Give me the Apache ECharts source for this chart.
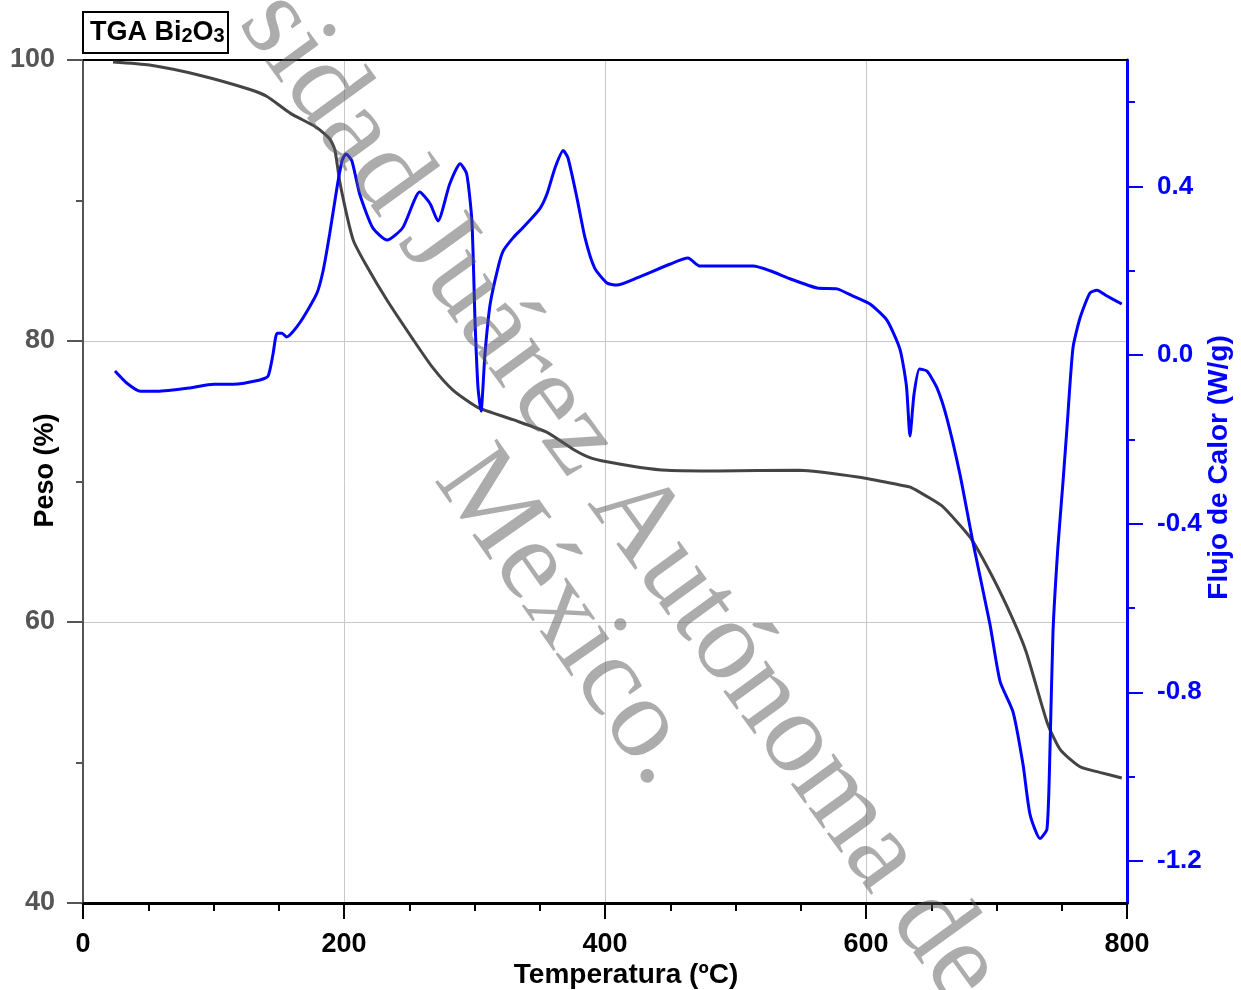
<!DOCTYPE html>
<html>
<head>
<meta charset="utf-8">
<script src="https://cdn.jsdelivr.net/npm/echarts@6/dist/echarts.min.js"></script>
<style>
  html, body { margin: 0; padding: 0; background: #fff; }
</style>
</head>
<body>
<div id="chart" style="width:1241px;height:990px"></div>
<script>
// TGA curve: temperature (ºC) / weight (%)
var tgaTemp = [23, 51, 90, 128, 141, 159, 179, 189, 193, 197, 207, 217.6, 233, 253, 268, 283.5, 302, 329.5,
  355.6, 375.5, 388.5, 401.5, 427, 447.5, 486, 549, 595, 626, 634, 651, 659, 680, 697, 713, 723, 739,
  749, 764, 779, 796]
var tgaWeight = [99.86, 99.64, 98.9, 97.9, 97.4, 96.2, 95.2, 94.4, 93.6, 91.2, 87.2, 85.3, 82.9, 80.1, 78.1,
  76.5, 75.3, 74.4, 73.5, 72.3, 71.7, 71.4, 71.0, 70.8, 70.75, 70.8, 70.3, 69.75, 69.6, 68.7, 68.2, 66.0,
  63.2, 60.1, 57.8, 52.8, 50.9, 49.7, 49.3, 48.9]

// DSC curve: temperature (ºC) / heat flow (W/g)
var dscTemp = [24.5, 33.7, 44, 57, 82, 100, 115, 135.6, 141.8, 145.6, 148.7, 152.5, 156, 166, 179, 184, 189,
  194.6, 198.5, 201.5, 206, 212, 222, 233, 245, 258, 266, 272, 281, 289, 294, 298, 300.4, 302.7, 305,
  308, 312, 318, 322, 329.5, 337, 350, 355.5, 361.7, 368, 371.6, 378.5, 384.7, 392, 401.5, 409, 424.5,
  450, 463.6, 472.8, 493.5, 513.4, 526.4, 541.8, 562.5, 577.8, 590, 603, 616, 626, 631, 633.7, 636.8,
  641, 646.7, 654.4, 662, 672, 682, 695, 702.7, 712.6, 720.3, 725.7, 733.3, 738.7, 741, 743.3, 747,
  751, 754, 758.6, 764, 771.6, 777, 784.7, 796]
var dscFlow = [-0.038, -0.067, -0.086, -0.086, -0.078, -0.069, -0.069, -0.059, -0.050, 0.002, 0.052, 0.052,
  0.043, 0.076, 0.145, 0.2, 0.287, 0.397, 0.461, 0.477, 0.461, 0.382, 0.302, 0.273, 0.302, 0.387, 0.359,
  0.318, 0.406, 0.454, 0.430, 0.318, 0.081, -0.078, -0.133, 0.002, 0.121, 0.207, 0.247, 0.278, 0.302,
  0.347, 0.382, 0.444, 0.485, 0.468, 0.373, 0.278, 0.207, 0.171, 0.166, 0.183, 0.216, 0.23, 0.211,
  0.211, 0.211, 0.2, 0.181, 0.159, 0.157, 0.14, 0.121, 0.083, 0.014, -0.074, -0.192, -0.093, -0.033,
  -0.038, -0.078, -0.150, -0.283, -0.445, -0.639, -0.774, -0.846, -0.971, -1.09, -1.147, -1.124,
  -0.933, -0.656, -0.458, -0.299, -0.173, 0.017, 0.088, 0.147, 0.154, 0.140, 0.121]

// 坐标轴刻度
var flowLabels = [-1.2, -0.8, -0.4, 0.0, 0.4]
var flowMinorTicks = [-1.0, -0.6, -0.2, 0.2, 0.6]

function pairs(xs, ys) {
  return xs.map(function (x, i) { return [x, ys[i]] })
}

var chart = echarts.init(document.getElementById('chart'))
var bold = { fontFamily: 'Liberation Sans', fontWeight: 'bold', fontSize: 27 }
var deg = Math.PI / 180

chart.setOption({
  animation: false,
  backgroundColor: '#fff',
  title: {
    text: '{m|TGA Bi}{s|2}{m|O}{s|3}',
    left: 83,
    top: 7,
    padding: [7, 4, 7, 7],
    borderColor: '#000',
    borderWidth: 2,
    textStyle: {
      rich: {
        m: { fontFamily: 'Liberation Sans', fontWeight: 'bold', fontSize: 27, color: '#000', lineHeight: 32, verticalAlign: 'bottom' },
        s: { fontFamily: 'Liberation Sans', fontWeight: 'bold', fontSize: 20, color: '#000', lineHeight: 15, verticalAlign: 'bottom' }
      }
    }
  },
  grid: [
    { left: 83, right: 114, top: 60, bottom: 87, containLabel: false, outerBoundsMode: 'none' },
    // 右轴短刻度用的窄 grid，左边贴着右轴
    { left: 1127, width: 40, top: 60, bottom: 87, containLabel: false, outerBoundsMode: 'none' }
  ],
  xAxis: [{
    type: 'value',
    gridIndex: 0,
    min: 0,
    max: 800,
    interval: 200,
    name: 'Temperatura (ºC)',
    nameLocation: 'middle',
    nameGap: 58,
    nameMoveOverlap: false,
    nameTextStyle: Object.assign({ color: '#000', padding: [0, 0, 0, 42] }, bold, { fontSize: 28 }),
    axisLine: { onZero: false, lineStyle: { color: '#000', width: 3 } },
    axisTick: { length: 16, lineStyle: { color: '#000', width: 2 } },
    minorTick: { show: true, splitNumber: 4, length: 8, lineStyle: { color: '#000', width: 2 } },
    axisLabel: Object.assign({ color: '#000', margin: 28 }, bold),
    splitLine: { show: true, lineStyle: { color: '#c8c8c8', width: 1 } }
  }, {
    // 顶部边框
    type: 'value',
    gridIndex: 0,
    position: 'top',
    min: 0,
    max: 800,
    axisLine: { show: true, onZero: false, lineStyle: { color: '#000', width: 2 } },
    axisTick: { show: false },
    axisLabel: { show: false },
    splitLine: { show: false }
  }, {
    type: 'value',
    gridIndex: 1,
    min: 0,
    max: 1,
    show: false
  }],
  yAxis: [{
    type: 'value',
    gridIndex: 0,
    min: 40,
    max: 100,
    interval: 20,
    position: 'left',
    name: 'Peso (%)',
    nameLocation: 'middle',
    nameRotate: 90,
    nameGap: 24,
    nameMoveOverlap: false,
    nameTextStyle: Object.assign({ color: '#000', padding: [0, 0, 0, 22] }, bold),
    axisLine: { show: true, onZero: false, lineStyle: { color: '#555', width: 2 } },
    axisTick: { length: 16, lineStyle: { color: '#555', width: 2 } },
    minorTick: { show: true, splitNumber: 2, length: 7, lineStyle: { color: '#555', width: 2 } },
    axisLabel: Object.assign({ color: '#555', margin: 28 }, bold),
    splitLine: { show: true, lineStyle: { color: '#c8c8c8', width: 1 } }
  }, {
    type: 'value',
    gridIndex: 0,
    min: -1.3,
    max: 0.7,
    position: 'right',
    name: 'Flujo de Calor (W/g)',
    nameLocation: 'middle',
    nameRotate: 90,
    nameGap: 78,
    nameMoveOverlap: false,
    nameTextStyle: Object.assign({ color: '#0000ff', padding: [0, 0, 0, 28] }, bold, { fontSize: 28 }),
    axisLine: { show: true, onZero: false, lineStyle: { color: '#0000ff', width: 3 } },
    axisTick: { show: true, customValues: flowLabels, length: 16, lineStyle: { color: '#0000ff', width: 2 } },
    axisLabel: Object.assign({
      color: '#0000ff',
      margin: 30,
      customValues: flowLabels,
      formatter: function (v) { return v.toFixed(1) }
    }, bold, { fontSize: 26 }),
    splitLine: { show: false }
  }, {
    // 副刻度
    type: 'value',
    gridIndex: 1,
    min: -1.3,
    max: 0.7,
    position: 'left',
    axisLine: { show: false, onZero: false },
    axisTick: { show: true, inside: true, customValues: flowMinorTicks, length: 8, lineStyle: { color: '#0000ff', width: 2 } },
    axisLabel: { show: false },
    splitLine: { show: false }
  }],
  series: [{
    name: 'TGA',
    type: 'line',
    xAxisIndex: 0,
    yAxisIndex: 0,
    data: pairs(tgaTemp, tgaWeight),
    smooth: 0.2,
    showSymbol: false,
    lineStyle: { color: '#444', width: 3 },
    z: 3
  }, {
    name: 'DSC',
    type: 'line',
    xAxisIndex: 0,
    yAxisIndex: 1,
    data: pairs(dscTemp, dscFlow),
    smooth: 0.2,
    showSymbol: false,
    lineStyle: { color: '#0000ff', width: 3 },
    z: 4
  }],
  // 水印
  graphic: [{
    type: 'text',
    x: 262,
    y: 5,
    rotation: -54 * deg,
    z: 100,
    style: {
      text: 'sidad Juárez Autónoma de',
      font: '115px "Liberation Serif"',
      fill: 'rgba(90,90,90,0.5)',
      align: 'left',
      verticalAlign: 'middle'
    }
  }, {
    type: 'text',
    x: 458,
    y: 462,
    rotation: -55 * deg,
    z: 100,
    style: {
      text: 'México.',
      font: '115px "Liberation Serif"',
      fill: 'rgba(90,90,90,0.5)',
      align: 'left',
      verticalAlign: 'middle'
    }
  }]
})
</script>
</body>
</html>
